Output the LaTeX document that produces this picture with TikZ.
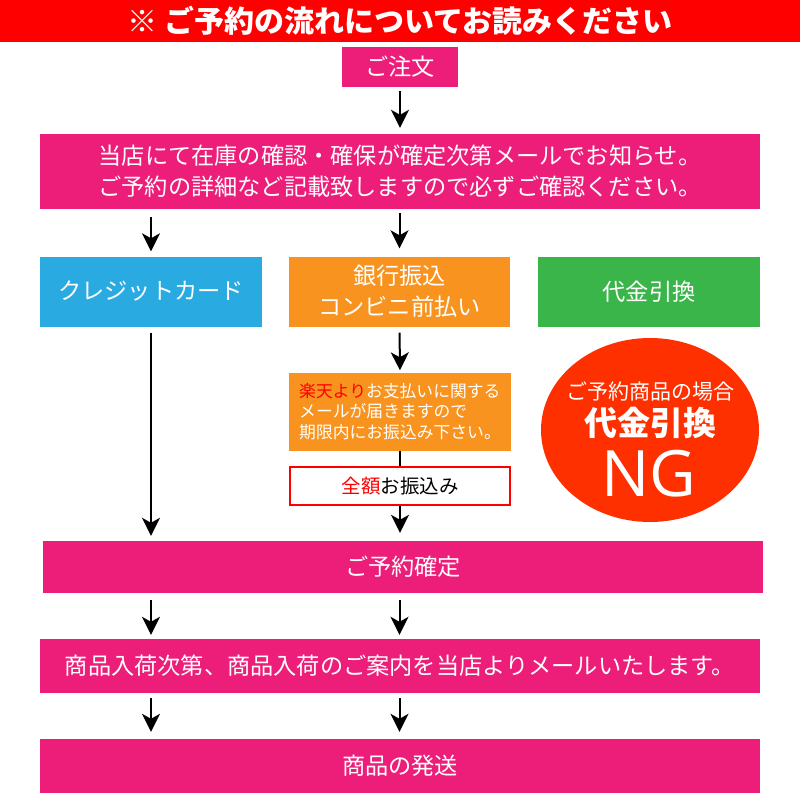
\documentclass[tikz,border=0pt]{standalone}
\usepackage{fontspec}
\setmainfont{Noto Sans CJK JP}
\newfontfamily\latinfont{Open Sans}
\usetikzlibrary{arrows.meta,shapes.geometric}
\definecolor{pinkbox}{HTML}{EC1E79}
\definecolor{banred}{HTML}{FF0000}
\definecolor{bluebox}{HTML}{29ABE2}
\definecolor{orangebox}{HTML}{F7931E}
\definecolor{greenbox}{HTML}{39B54A}
\definecolor{ngred}{HTML}{FF3000}
\definecolor{txtred}{HTML}{FF0000}
\tikzset{
  box/.style={rectangle, fill=pinkbox, text=white, inner sep=0pt, align=center, font=\fontsize{23.2}{31}\selectfont},
  arr/.style={-{Stealth[length=18pt,width=18pt,inset=5pt]}, line width=2pt, black},
}
\begin{document}
\begin{tikzpicture}[x=1pt,y=-1pt]
\useasboundingbox (0,0) rectangle (800,800);
\fill[white] (0,0) rectangle (800,800);
% banner
\node[rectangle, fill=banred, text=white, inner sep=0pt, minimum width=800pt, minimum height=42pt, font=\fontsize{30}{32}\selectfont\bfseries] (banner) at (400,21) {※ ご予約の流れについてお読みください};
% order
\node[box, minimum width=116pt, minimum height=40pt] (order) at (400,67) {ご注文};
% box 1
\node[box, minimum width=720pt, minimum height=75pt] (info) at (400,171.5) {当店にて在庫の確認・確保が確定次第メールでお知らせ。\\ご予約の詳細など記載致しますので必ずご確認ください。};
% payment methods
\node[box, fill=bluebox, minimum width=222pt, minimum height=70pt] (cc) at (151,291.5) {クレジットカード};
\node[box, fill=orangebox, minimum width=221pt, minimum height=70pt] (bank) at (399.5,291.5) {銀行振込\\コンビニ前払い};
\node[box, fill=greenbox, minimum width=222pt, minimum height=70pt] (cod) at (649,291.5) {代金引換};
% rakuten note
\node[rectangle, fill=orangebox, text=white, inner sep=0pt, minimum width=222pt, minimum height=78pt, align=left, font=\fontsize{16.8}{20.5}\selectfont] (note) at (400,411.5) {\textcolor{txtred}{楽天より}お支払いに関する\\メールが届きますので\\期限内にお振込み下さい。};
% full amount
\node[rectangle, draw=txtred, line width=2pt, fill=white, inner sep=0pt, minimum width=220pt, minimum height=38pt, font=\fontsize{19.5}{22}\selectfont] (full) at (400,486) {\textcolor{txtred}{全額}お振込み};
% NG circle
\node[ellipse, fill=ngred, minimum width=218pt, minimum height=184pt, inner sep=0pt] (ng) at (650,430) {};
\node[text=white, inner sep=0pt, font=\fontsize{21}{22}\selectfont] (ngl1) at (650,392) {ご予約商品の場合};
\node[text=white, inner sep=0pt, font=\fontsize{33}{34}\selectfont\bfseries] (ngl2) at (650,423) {代金引換};
\node[text=white, inner sep=0pt, font=\latinfont\fontsize{64}{64}\selectfont] (ngl3) at (649,474) {NG};
% confirm rows
\node[box, minimum width=720pt, minimum height=52pt] (confirm) at (403,567) {ご予約確定};
\node[box, minimum width=720pt, minimum height=54pt] (arrival) at (400,666) {商品入荷次第、商品入荷のご案内を当店よりメールいたします。};
\node[box, minimum width=720pt, minimum height=54pt] (ship) at (400,766) {商品の発送};
% arrows
\draw[arr, shorten <=4pt, shorten >=6pt] (order.south) -- (info.north);
\draw[arr, shorten <=8pt, shorten >=5pt] (info.south -| cc.north) -- (cc.north);
\draw[arr, shorten <=4pt, shorten >=8pt] (info.south -| bank.north) -- (bank.north);
\draw[arr, shorten <=6pt, shorten >=5pt] (cc.south) -- (confirm.north -| cc.south);
\draw[arr, shorten <=6pt, shorten >=2pt] (bank.south) -- (note.north);
\draw[line width=2pt] (note.south) -- (full.north);
\draw[arr, shorten >=8pt] (full.south) -- (confirm.north -| full.south);
\draw[arr, shorten <=7pt, shorten >=4pt] (confirm.south -| cc.south) -- (arrival.north -| cc.south);
\draw[arr, shorten <=7pt, shorten >=4pt] (confirm.south -| bank.south) -- (arrival.north -| bank.south);
\draw[arr, shorten <=5pt, shorten >=7pt] (arrival.south -| cc.south) -- (ship.north -| cc.south);
\draw[arr, shorten <=5pt, shorten >=7pt] (arrival.south -| bank.south) -- (ship.north -| bank.south);
\end{tikzpicture}
\end{document}
